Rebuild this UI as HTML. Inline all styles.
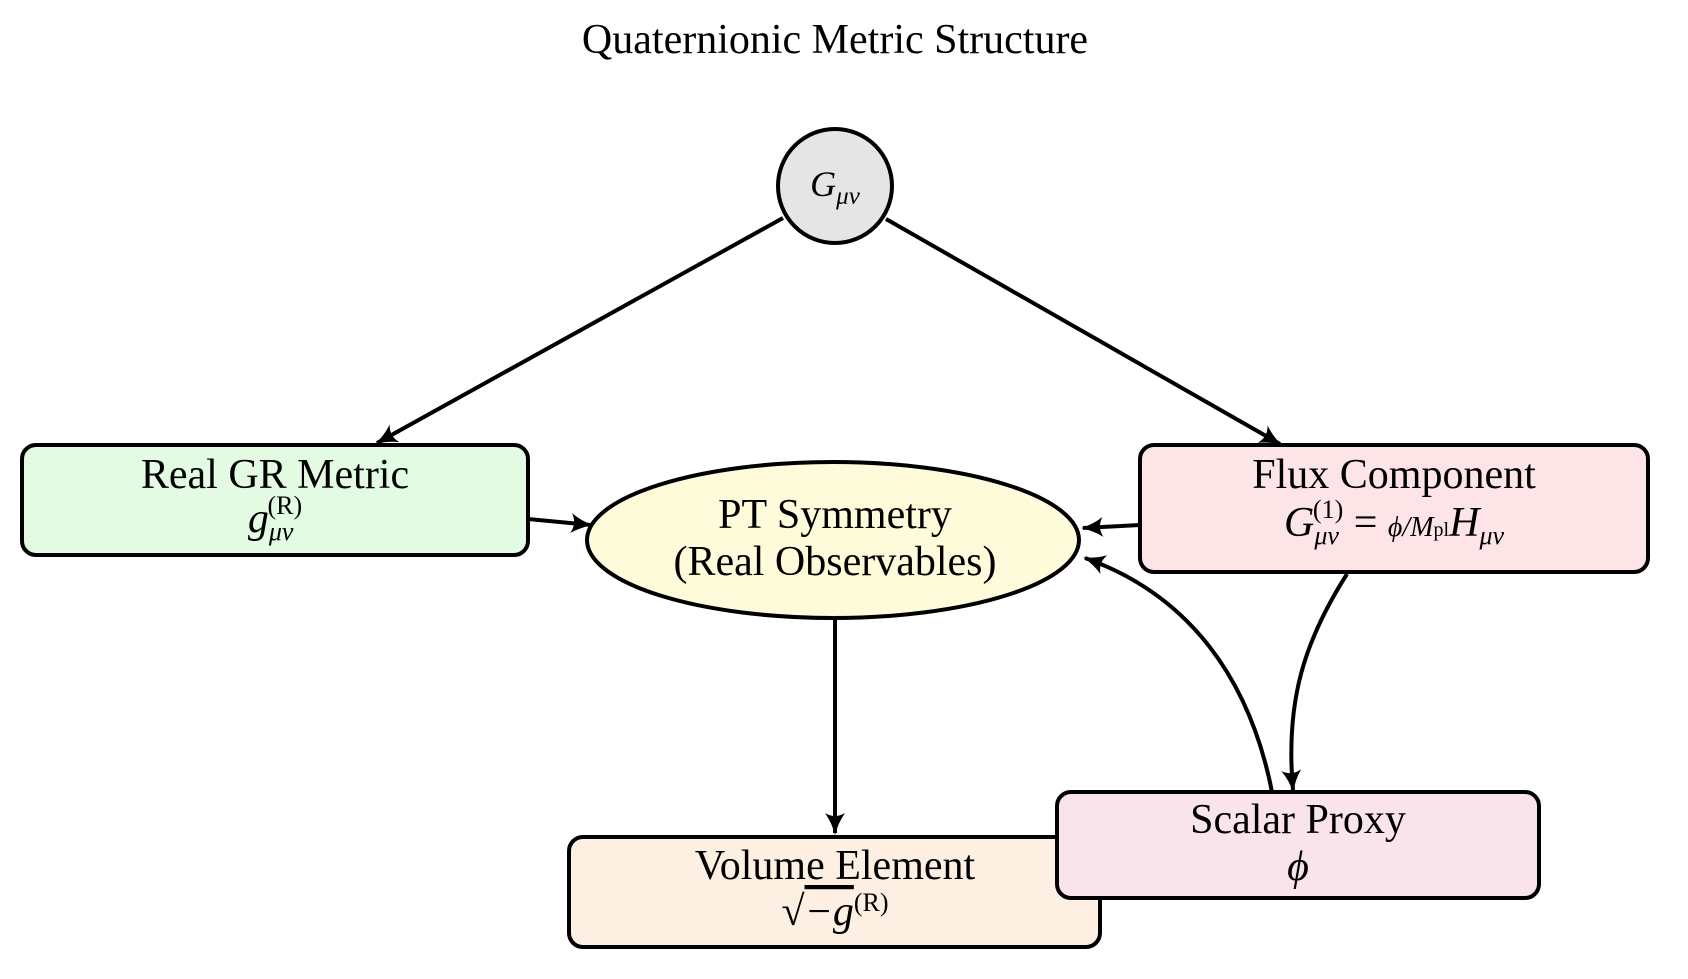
<!DOCTYPE html>
<html><head><meta charset="utf-8"><style>
body{margin:0;background:#fff}
svg text{font-family:"Liberation Serif",serif;fill:#000}
</style></head><body>
<svg width="1688" height="974" viewBox="0 0 1688 974" xmlns="http://www.w3.org/2000/svg">
<defs><marker id="a" markerWidth="30" markerHeight="30" refX="22" refY="12" orient="auto" markerUnits="userSpaceOnUse"><path d="M2,2 Q12,9 24,12 Q12,15 2,22 Q8,12 2,2 Z" fill="#000"/></marker></defs>
<text x="835" y="53" font-size="42" text-anchor="middle">Quaternionic Metric Structure</text>
<g stroke="#000" stroke-width="4" fill="none" marker-end="url(#a)">
<line x1="783" y1="218" x2="377" y2="443"/>
<line x1="886" y1="219" x2="1280" y2="444"/>
<line x1="528" y1="519" x2="591" y2="525"/>
<line x1="1140" y1="525" x2="1083" y2="528"/>
<line x1="835" y1="617" x2="835" y2="833"/>
<path d="M1347,574 C1305,640 1285,700 1293,790"/>
<path d="M1272,792 C1250,680 1190,595 1085,558"/>
</g>
<g stroke="#000" stroke-width="4">
<circle cx="835" cy="186" r="57" fill="#e5e5e5"/>
<rect x="22" y="445" width="506" height="110" rx="14" fill="#e2fbe2"/>
<rect x="1140" y="445" width="508" height="127" rx="14" fill="#fde4e6"/>
<ellipse cx="833" cy="540" rx="246" ry="78" fill="#fefbda"/>
<rect x="569" y="837" width="531" height="110" rx="14" fill="#fdf0e2"/>
<rect x="1057" y="792" width="482" height="106" rx="14" fill="#f9e4ec"/>
</g>
<g font-size="42" text-anchor="middle">
<text x="835" y="196" font-style="italic" font-size="36">G<tspan font-size="25" dy="8">μν</tspan></text>
<text x="275" y="488">Real GR Metric</text>
<text x="275" y="532" font-style="italic">g<tspan font-size="26" dy="8">μν</tspan><tspan font-size="26" dy="-26" dx="-26" font-style="normal">(R)</tspan></text>
<text x="1394" y="488">Flux Component</text>
<text x="1394" y="536" font-style="italic">G<tspan font-size="26" dy="8">μν</tspan><tspan font-size="26" dy="-26" dx="-26" font-style="normal">(1)</tspan><tspan dy="18" font-style="normal">  =  </tspan><tspan font-size="28">ϕ/M</tspan><tspan font-size="20" font-style="normal">pl</tspan>H<tspan font-size="26" dy="8">μν</tspan></text>
<text x="835" y="528">PT Symmetry</text>
<text x="835" y="575">(Real Observables)</text>
<text x="835" y="879">Volume Element</text>
<text x="835" y="925" font-style="italic">√<tspan text-decoration="overline">−g</tspan><tspan font-size="26" dy="-14" font-style="normal">(R)</tspan></text>
<text x="1298" y="833">Scalar Proxy</text>
<text x="1298" y="880" font-style="italic">ϕ</text>
</g>
</svg>
</body></html>
